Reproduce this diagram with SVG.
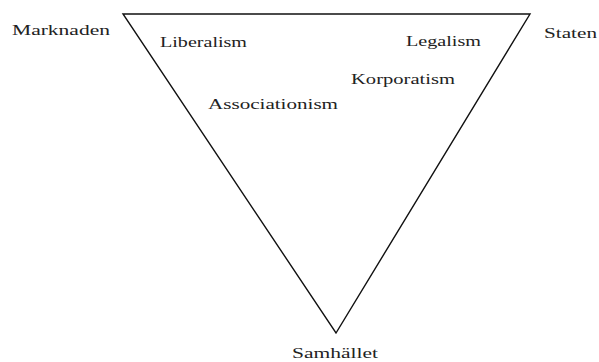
<svg xmlns="http://www.w3.org/2000/svg" width="599" height="362" viewBox="0 0 599 362">
<style>
text{font-family:"Liberation Serif","Times New Roman",serif;font-size:15px;fill:#222}
.edge{fill:none;stroke:#111;stroke-width:1.4;stroke-linejoin:miter}
</style>
<rect width="599" height="362" fill="#fff"/>
<g id="connectors">
<polygon class="edge" points="123,14 530,14 336,333"/>
</g>
<g id="marknaden"><text x="12" y="35" textLength="98" lengthAdjust="spacingAndGlyphs">Marknaden</text></g>
<g id="staten"><text x="544" y="38" textLength="53" lengthAdjust="spacingAndGlyphs">Staten</text></g>
<g id="samhallet"><text x="292" y="358" textLength="86" lengthAdjust="spacingAndGlyphs">Samhället</text></g>
<g id="liberalism"><text x="160" y="47" textLength="87" lengthAdjust="spacingAndGlyphs">Liberalism</text></g>
<g id="legalism"><text x="406" y="46" textLength="75" lengthAdjust="spacingAndGlyphs">Legalism</text></g>
<g id="korporatism"><text x="351" y="84" textLength="104" lengthAdjust="spacingAndGlyphs">Korporatism</text></g>
<g id="associationism"><text x="208" y="109" textLength="130" lengthAdjust="spacingAndGlyphs">Associationism</text></g>
</svg>
